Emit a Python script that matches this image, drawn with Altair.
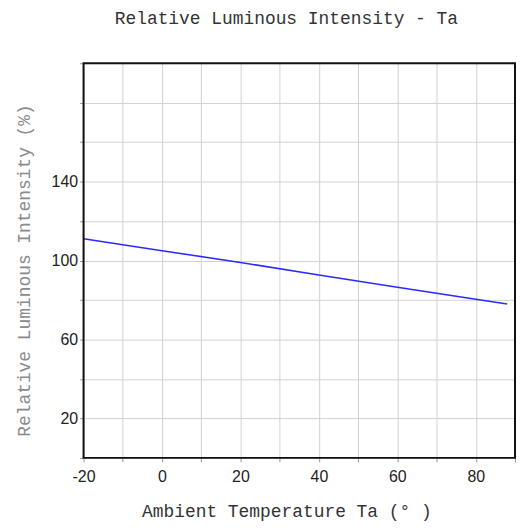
import altair as alt
import pandas as pd

temps = [-20, 0, 20, 40, 60, 80, 88]
intensity = [111, 105, 99, 92.7, 86.5, 80.4, 78]

x_grid = [-20, -10, 0, 10, 20, 30, 40, 50, 60, 70, 80, 90]
x_labels = [-20, 0, 20, 40, 60, 80]
y_grid = [0, 20, 40, 60, 80, 100, 120, 140, 160, 180, 200]
y_labels = [20, 60, 100, 140]

W, H = 434, 397

df = pd.DataFrame({"Ta": temps, "I": intensity})

mono = "Liberation Mono"
sans = "Liberation Sans"

x_expr = "indexof(%s, datum.value) >= 0 ? '' + datum.value : ''" % str(x_labels)
y_expr = "indexof(%s, datum.value) >= 0 ? '' + datum.value : ''" % str(y_labels)

base = alt.Chart(df)

line = base.mark_line(color="#2a2aff", strokeWidth=1.6).encode(
    x=alt.X("Ta:Q", scale=alt.Scale(domain=[-20, 90], nice=False, zero=False),
            axis=alt.Axis(values=x_grid, labelExpr=x_expr, title="Ambient Temperature Ta (° )",
                          domain=False, tickSize=4, tickColor="#999", labelPadding=7,
                          labelFont=sans, labelFontSize=16, labelColor="#222",
                          titleFont=mono, titleFontSize=18, titleFontWeight="normal", titleColor="#333",
                          titleX=204, titleY=54, titleBaseline="middle", titleAlign="center",
                          gridColor="#d2d2d2", gridWidth=1, labelFlush=False)),
    y=alt.Y("I:Q", scale=alt.Scale(domain=[0, 200], nice=False),
            axis=alt.Axis(values=y_grid, labelExpr=y_expr, title="Relative Luminous Intensity (%)",
                          domain=False, tickSize=4, tickColor="#999", labelPadding=2,
                          labelFont=sans, labelFontSize=16, labelColor="#222",
                          titleFont=mono, titleFontSize=18, titleFontWeight="normal", titleColor="#8a8a8a",
                          titleX=-59, titleY=208, titleBaseline="middle", titleAlign="center", titleAngle=-90,
                          gridColor="#d2d2d2", gridWidth=1, labelFlush=False)),
)

frame = alt.Chart(pd.DataFrame({"a": [0]})).mark_rect(
    filled=False, stroke="#111", strokeWidth=2, fill=None
).encode(x=alt.value(0), x2=alt.value(W), y=alt.value(0), y2=alt.value(H))

chart = alt.layer(line, frame).properties(
    width=W, height=H,
    title=alt.TitleParams("Relative Luminous Intensity - Ta", font=mono, fontSize=18,
                          fontWeight="normal", color="#333", anchor="middle", dx=-13, offset=34),
    autosize=alt.AutoSizeParams(type="none"),
    padding={"left": 76, "top": 54, "right": 2, "bottom": 66},
).configure(background="white").configure_view(strokeWidth=0)

chart.save("out.html", embed_options={"renderer": "svg", "actions": False})
